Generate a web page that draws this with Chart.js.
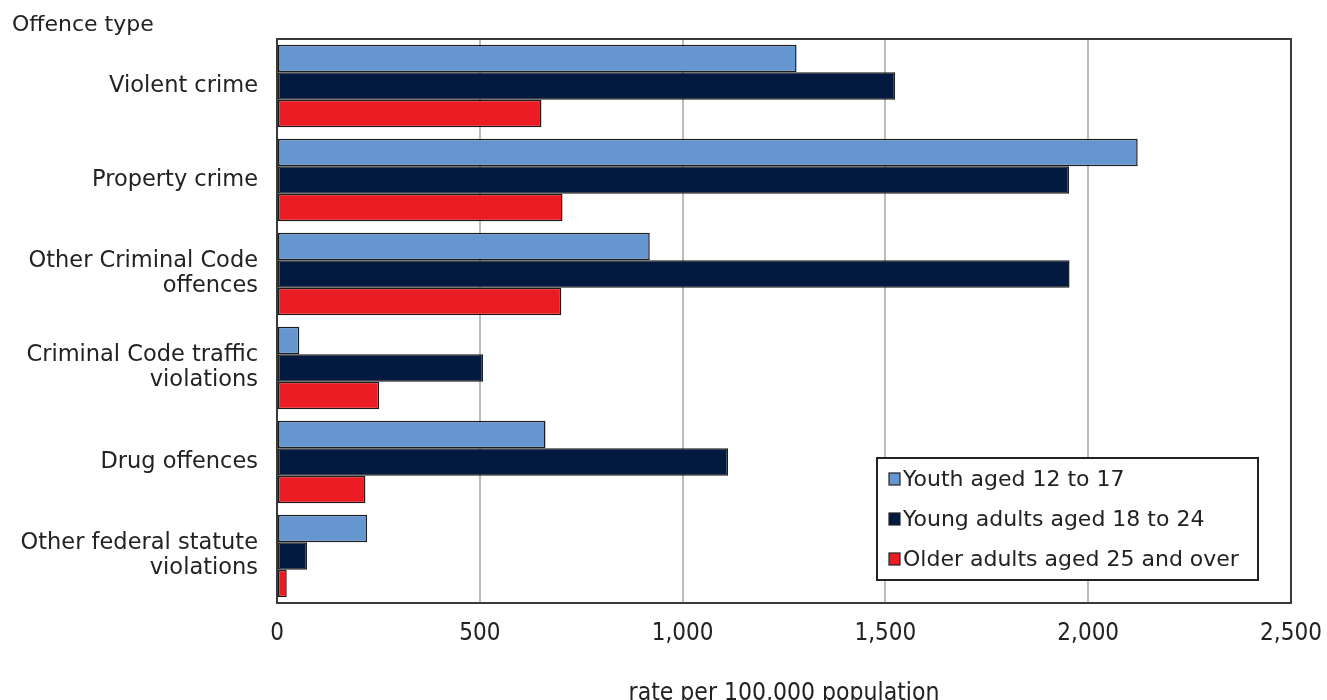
<!DOCTYPE html>
<html>
<head>
<meta charset="utf-8">
<script src="https://cdn.jsdelivr.net/npm/chart.js@4.4.1/dist/chart.umd.min.js"></script>
<style>
  html, body { margin: 0; padding: 0; background: #fff; }
  #wrap { width: 1327px; height: 700px; position: relative; }
</style>
</head>
<body>
<div id="wrap"><canvas id="c" width="1327" height="700"></canvas></div>
<script>
const categories = [
  ["Violent crime"],
  ["Property crime"],
  ["Other Criminal Code", "offences"],
  ["Criminal Code traffic", "violations"],
  ["Drug offences"],
  ["Other federal statute", "violations"]
];
const seriesNames = ["Youth aged 12 to 17", "Young adults aged 18 to 24", "Older adults aged 25 and over"];
const youth = [1281, 2122, 919, 55, 662, 222];
const youngAdults = [1524, 1953, 1954, 508, 1112, 74];
const olderAdults = [652, 704, 701, 252, 218, 24];
const xTicks = [0, 500, 1000, 1500, 2000, 2500];
const yAxisTitle = "Offence type";
const xAxisTitle = "rate per 100,000 population";

const colors = ["#6596cf", "#021a40", "#ec1c24"];

const frameAndLegend = {
  id: 'frameAndLegend',
  afterDatasetsDraw(chart) {
    const { ctx, chartArea: a } = chart;
    ctx.save();
    ctx.strokeStyle = '#3a3a3a';
    ctx.lineWidth = 2;
    ctx.strokeRect(a.left, a.top, a.right - a.left, a.bottom - a.top);
    ctx.fillStyle = '#222';
    ctx.font = '22px "DejaVu Sans"';
    ctx.textBaseline = 'middle';
    ctx.textAlign = 'left';
    ctx.fillText(yAxisTitle, 12, 25);
    const lx = 877, ly = 458, lw = 381, lh = 122;
    ctx.fillStyle = '#fff';
    ctx.fillRect(lx, ly, lw, lh);
    ctx.strokeStyle = '#222';
    ctx.lineWidth = 2;
    ctx.strokeRect(lx, ly, lw, lh);
    ctx.font = '22px "DejaVu Sans"';
    chart.data.datasets.forEach((ds, i) => {
      const cy = ly + 21 + i * 40;
      ctx.fillStyle = ds.backgroundColor;
      ctx.fillRect(889, cy - 6, 11, 12);
      ctx.strokeStyle = '#222';
      ctx.lineWidth = 1.2;
      ctx.strokeRect(889, cy - 6, 11, 12);
      ctx.fillStyle = '#222';
      ctx.fillText(ds.label, 903, cy + 1);
    });
    ctx.restore();
  }
};

new Chart(document.getElementById('c'), {
  type: 'bar',
  data: {
    labels: categories,
    datasets: [
      { label: seriesNames[0], data: youth, backgroundColor: colors[0] },
      { label: seriesNames[1], data: youngAdults, backgroundColor: colors[1] },
      { label: seriesNames[2], data: olderAdults, backgroundColor: colors[2] }
    ].map(d => Object.assign(d, {
      borderColor: '#1c1c1c', borderWidth: 1.5, borderSkipped: false,
      categoryPercentage: 0.88, barPercentage: 1.0
    }))
  },
  options: {
    indexAxis: 'y',
    responsive: false,
    animation: false,
    layout: { padding: { top: 39, right: 36, left: 0, bottom: 0 } },
    plugins: { legend: { display: false }, tooltip: { enabled: false } },
    scales: {
      x: {
        min: 0, max: 2500,
        afterBuildTicks(scale) { scale.ticks = xTicks.map(v => ({ value: v })); },
        afterFit(scale) { scale.height = 97; scale.paddingLeft = 0; scale.paddingRight = 0; },
        grid: {
          color: ctx => (ctx.tick && (ctx.tick.value === 0 || ctx.tick.value === 2500)) ? 'rgba(0,0,0,0)' : '#bdbdbd',
          lineWidth: 2, drawTicks: false
        },
        border: { display: false },
        ticks: {
          padding: 16,
          color: '#222',
          font: { family: '"Liberation Sans Narrow", "DejaVu Sans Condensed", sans-serif', size: 24 },
          callback: v => v.toLocaleString('en-US')
        },
        title: {
          display: true, text: xAxisTitle, color: '#222',
          font: { family: '"Liberation Sans Narrow", "DejaVu Sans Condensed", sans-serif', size: 24.5, lineHeight: 1 },
          padding: { top: 0, bottom: -6 }
        }
      },
      y: {
        afterFit(scale) { scale.width = 277; },
        grid: { display: false },
        border: { display: false },
        ticks: {
          padding: 11,
          color: '#222',
          font: { family: '"DejaVu Sans", sans-serif', size: 22.5, lineHeight: 1.12 }
        }
      }
    }
  },
  plugins: [frameAndLegend]
});
</script>
</body>
</html>
